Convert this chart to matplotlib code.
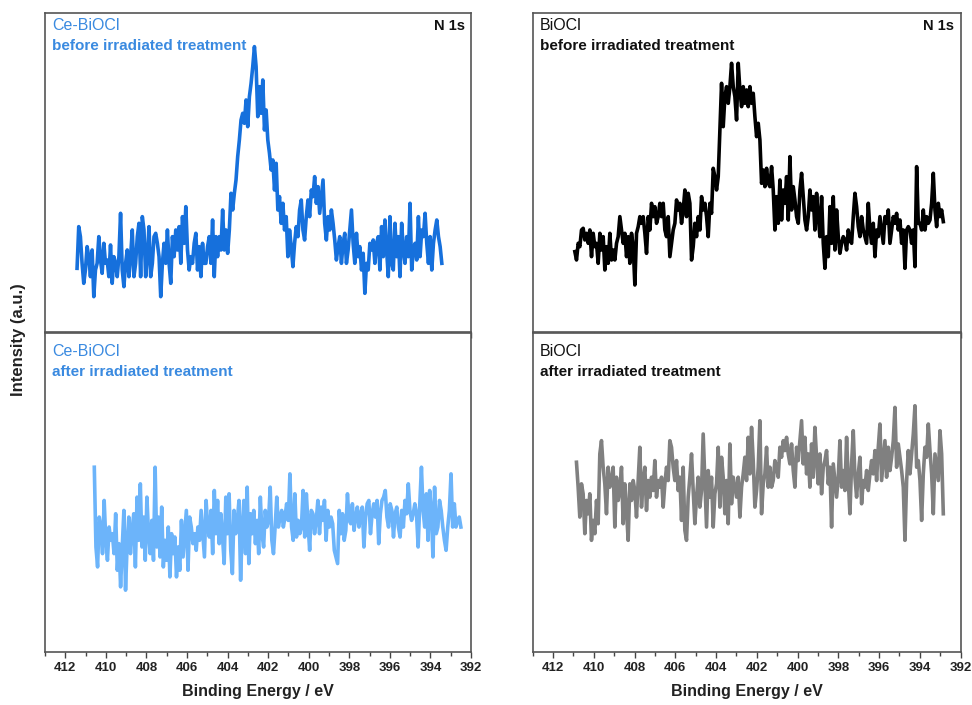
import numpy as np
import matplotlib
matplotlib.use("Agg")
import matplotlib.pyplot as plt
from matplotlib.ticker import MultipleLocator

plt.rcParams['font.family'] = ['Liberation Sans', 'DejaVu Sans']

# N 1s spectra, intensities in arbitrary units
# binding energy scan limits (eV) for each curve
rango_ce_antes = (411.42, 393.44)
rango_bi_antes = (410.93, 392.85)
rango_ce_despues = (410.57, 392.50)
rango_bi_despues = (410.85, 392.85)

ce_antes = [285,410,380,300,240,280,350,320,260,340,200,280,300,380,310,270,360,300,310,260,355,240,320,300,260,320,450,280,230,300,340,260,320,400,260,300,380,420,260,440,400,260,320,410,260,300,380,390,360,320,200,300,360,300,400,300,240,380,320,400,340,410,300,440,360,470,340,280,320,300,360,390,280,350,260,360,300,300,350,380,300,430,260,380,320,380,340,460,340,400,330,400,510,460,510,550,620,670,730,750,720,790,710,800,840,890,950,890,740,830,750,850,700,760,670,630,580,610,520,600,460,500,420,480,400,440,320,400,350,290,360,410,380,460,490,400,370,440,490,440,520,500,560,480,530,450,500,550,420,370,440,400,460,420,370,310,350,380,300,360,390,300,340,400,460,360,300,390,320,350,280,330,210,300,280,360,340,370,300,360,380,280,410,320,430,340,260,440,300,280,420,320,380,260,420,340,300,380,320,480,280,340,360,310,440,320,400,380,450,360,300,380,280,360,400,430,380,350,300]

bi_antes = [335,310,360,350,400,405,370,390,360,400,320,390,350,360,300,390,340,380,280,350,300,390,310,340,310,360,380,440,400,360,390,320,380,300,390,350,235,390,410,440,420,440,390,330,440,400,480,440,470,420,440,480,440,480,400,380,440,320,360,400,420,490,460,480,420,460,520,440,510,480,310,350,420,380,440,400,500,460,480,440,380,480,450,585,560,520,560,700,840,710,800,830,780,830,900,830,800,730,900,820,770,830,780,820,770,830,780,810,740,680,720,670,540,580,530,585,540,530,590,520,400,500,420,550,430,520,480,560,430,620,460,530,490,440,420,520,570,500,430,400,440,520,460,500,400,510,440,380,500,360,285,380,320,470,360,500,340,460,380,330,360,380,370,340,400,370,360,440,510,470,410,380,440,400,380,360,480,400,360,420,320,400,380,440,400,360,440,420,460,360,400,440,420,450,400,430,360,400,285,400,410,400,360,400,290,590,420,420,400,460,400,440,420,430,480,570,460,410,480,440,460,425]

ce_despues = [800,560,500,650,620,540,700,580,520,620,580,600,540,660,490,570,440,560,670,430,570,650,540,610,660,500,710,580,750,560,650,520,710,600,540,640,520,800,560,650,530,680,500,580,520,620,470,600,540,590,470,560,490,640,530,600,670,490,650,620,570,600,550,620,580,670,600,530,700,620,590,670,540,730,600,700,570,660,590,510,710,600,720,550,480,670,600,640,700,460,620,700,540,740,510,660,600,670,570,640,540,710,600,560,670,620,640,740,580,540,620,710,620,650,670,620,650,690,640,780,620,580,720,590,640,600,620,730,590,720,630,550,670,660,600,640,700,600,680,640,700,580,670,620,650,630,550,530,510,670,600,660,580,610,720,640,630,690,610,650,680,620,660,680,560,650,690,700,600,660,690,650,700,570,660,700,710,730,650,620,690,670,590,660,680,620,590,670,620,700,660,750,670,640,660,690,660,560,690,800,670,620,720,580,730,670,530,740,600,620,700,670,620,580,550,620,670,780,620,690,620,640,650,620]

bi_despues = [755,680,590,690,660,540,640,600,660,520,580,540,640,570,780,820,740,690,600,740,680,700,740,560,710,640,670,740,570,690,610,520,690,640,700,670,590,700,800,620,700,740,610,700,650,710,670,760,650,700,680,710,620,690,740,700,820,800,740,700,760,670,710,580,740,550,520,650,710,780,670,570,650,710,620,670,840,700,560,730,650,710,560,660,690,800,620,770,710,600,700,570,810,630,710,680,650,710,590,680,720,770,700,830,720,860,760,620,670,740,880,600,690,720,800,680,740,680,700,760,740,710,800,770,820,790,830,780,750,810,730,680,800,760,820,880,750,830,720,780,680,810,710,860,770,690,780,660,740,760,790,690,740,560,750,700,650,710,820,680,730,670,830,700,600,750,850,710,650,720,770,630,700,680,730,670,720,760,720,790,700,800,870,700,760,820,710,800,730,770,820,920,740,810,770,730,680,520,700,790,720,780,840,925,740,760,700,580,720,800,770,870,790,720,600,780,740,700,850,780,600]

paneles = [
    # (datos, rango, color linea, color titulo, muestra, estado, fila, col, ylim)
    (ce_antes, rango_ce_antes, '#1670dc', '#3a8ae0', 'Ce-BiOCl', 'before irradiated treatment', 0, 0, (94, 1051)),
    (bi_antes, rango_bi_antes, '#000000', '#111111', 'BiOCl', 'before irradiated treatment', 0, 1, (94, 1051)),
    (ce_despues, rango_ce_despues, '#6cb4fa', '#3a8ae0', 'Ce-BiOCl', 'after irradiated treatment', 1, 0, (244, 1204)),
    (bi_despues, rango_bi_despues, '#808080', '#111111', 'BiOCl', 'after irradiated treatment', 1, 1, (184, 1144)),
]

fig = plt.figure(figsize=(9.72, 7.05), dpi=100)
lefts = [0.0463, 0.548]
widths = [0.4383, 0.4403]
bottoms = [0.5291, 0.0752]
alto = 0.4525

for datos, rango, color, color_txt, muestra, estado, fila, col, ylim in paneles:
    ax = fig.add_axes([lefts[col], bottoms[fila], widths[col], alto])
    energia = np.linspace(rango[0], rango[1], len(datos))
    ax.plot(energia, datos, color=color, lw=2.6, solid_joinstyle='round')
    ax.set_xlim(413, 392)
    ax.set_ylim(*ylim)
    ax.set_yticks([])
    ax.xaxis.set_major_locator(MultipleLocator(2))
    ax.xaxis.set_minor_locator(MultipleLocator(1))
    ax.tick_params(axis='x', which='major', direction='out', length=4.5, width=1, color='#444444',
                   labelsize=9.5, labelcolor='#222222', pad=3)
    ax.tick_params(axis='x', which='minor', direction='out', length=2.8, width=1, color='#444444')
    for lbl in ax.get_xticklabels():
        lbl.set_fontweight('bold')
    for s in ax.spines.values():
        s.set_color('#555555')
        s.set_linewidth(1.2)

    if fila == 0:
        ax.tick_params(axis='x', labelbottom=False)
        ax.text(0.016, 0.96, muestra, transform=ax.transAxes, color=color_txt,
                fontsize=11.5, va='center', ha='left')
        ax.text(0.016, 0.898, estado, transform=ax.transAxes, color=color_txt,
                fontsize=11, fontweight='bold', va='center', ha='left')
        ax.text(0.985, 0.96, 'N 1s', transform=ax.transAxes, color='#111111',
                fontsize=10.5, fontweight='bold', va='center', ha='right')
    else:
        ax.text(0.016, 0.942, muestra, transform=ax.transAxes, color=color_txt,
                fontsize=11.5, va='center', ha='left')
        ax.text(0.016, 0.879, estado, transform=ax.transAxes, color=color_txt,
                fontsize=11, fontweight='bold', va='center', ha='left')
        ax.set_xlabel('Binding Energy / eV', fontsize=11.5, fontweight='bold',
                      color='#222222', labelpad=7)

fig.text(0.019, 0.518, 'Intensity (a.u.)', rotation=90, fontsize=12, fontweight='bold',
         color='#222222', va='center', ha='center')

fig.savefig('out.png', dpi=100)
